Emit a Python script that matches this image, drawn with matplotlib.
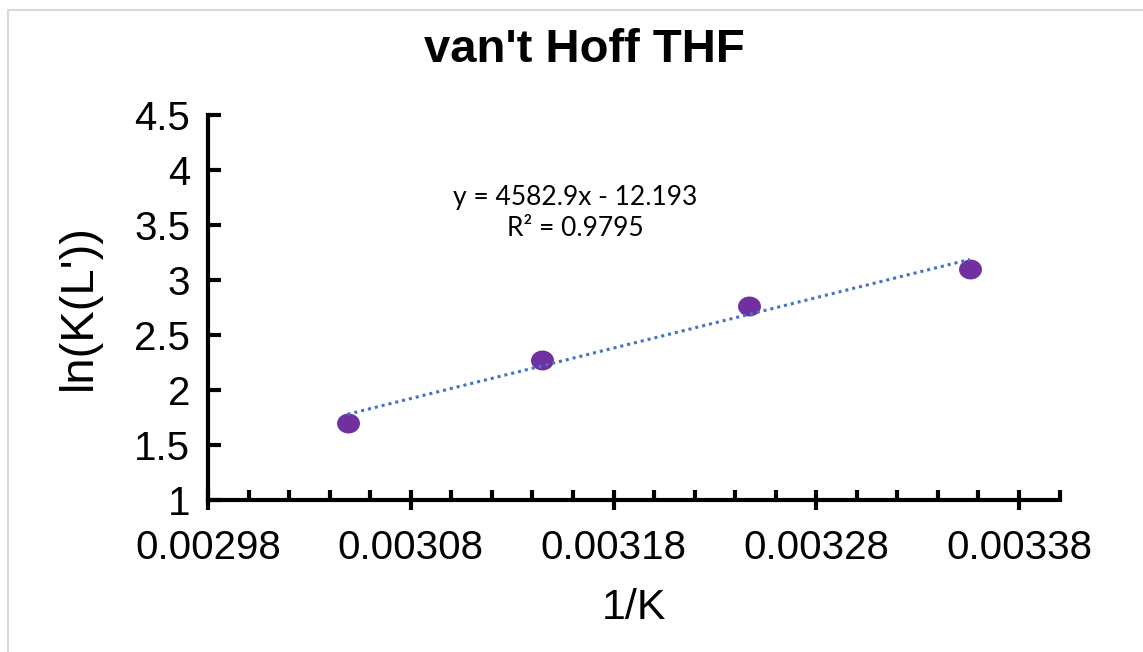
import numpy as np
import matplotlib
matplotlib.use('Agg')
import matplotlib.pyplot as plt
import matplotlib.ticker as ticker
from matplotlib.patches import Rectangle
from matplotlib.path import Path
from matplotlib.transforms import Affine2D

plt.rcParams['font.family'] = ['Liberation Sans', 'DejaVu Sans']

# data
inv_T = [0.0030488, 0.0031447, 0.0032468, 0.0033557]
lnK = [1.70, 2.27, 2.76, 3.10]
slope = 4582.9
intercept = -12.193
r2 = 0.9795

fig = plt.figure(figsize=(11.43, 6.52), dpi=100)
ax = fig.add_axes([0.182, 0.233, 0.745, 0.591])

# light grey chart-area border like excel
fig.patches.append(Rectangle((8/1143, -0.1), 1.2, 1 - 10/652 + 0.1, transform=fig.transFigure,
                             fill=False, edgecolor='#d9d9d9', linewidth=1.5))

# slightly wide ellipse marker (source picture is a bit stretched)
ell = Path.unit_circle().transformed(Affine2D().scale(1.15, 1.0))
ax.plot(inv_T, lnK, linestyle='none', marker=ell, markersize=16.5,
        color='#7030A0', markeredgewidth=0, zorder=2)
xl = np.array([inv_T[0], inv_T[-1]])
ax.plot(xl, slope * xl + intercept, color='#4472C4', linestyle=(0, (1, 1.3)),
        linewidth=2.2, zorder=3)

ax.text(0.0031613, 3.61, 'y = 4582.9x - 12.193\nR² = %.4f' % r2,
        ha='center', va='center', fontsize=19, family=['Lato', 'DejaVu Sans'],
        linespacing=1.3)

ax.set_xlim(0.00298, 0.0034)
ax.set_ylim(1, 4.5)
ax.xaxis.set_major_locator(ticker.FixedLocator([0.00298, 0.00308, 0.00318, 0.00328, 0.00338]))
ax.xaxis.set_major_formatter(ticker.FuncFormatter(lambda v, p: '%.5f' % v))
ax.xaxis.set_minor_locator(ticker.FixedLocator(np.arange(0.00300, 0.003405, 0.00002)))
ax.yaxis.set_major_locator(ticker.MultipleLocator(0.5))
ax.yaxis.set_major_formatter(ticker.FuncFormatter(lambda v, p: ('%g' % v)))

for s in ['top', 'right']:
    ax.spines[s].set_visible(False)
for s in ['left', 'bottom']:
    ax.spines[s].set_linewidth(3)

ax.tick_params(axis='x', which='major', direction='inout', length=14, width=3,
               labelsize=29, pad=14)
ax.tick_params(axis='x', which='minor', direction='in', length=7, width=3)
ax.tick_params(axis='y', which='major', direction='in', length=9, width=3,
               labelsize=29, pad=13)

ax.set_xlabel('1/K', fontsize=31, labelpad=15)
ax.set_ylabel("ln(K(L'))", fontsize=34, labelpad=24)
fig.text(584/1143, 1 - 50/652, "van't Hoff THF", fontsize=34, fontweight='bold',
         ha='center', va='center')

fig.savefig('out.png', dpi=100)
